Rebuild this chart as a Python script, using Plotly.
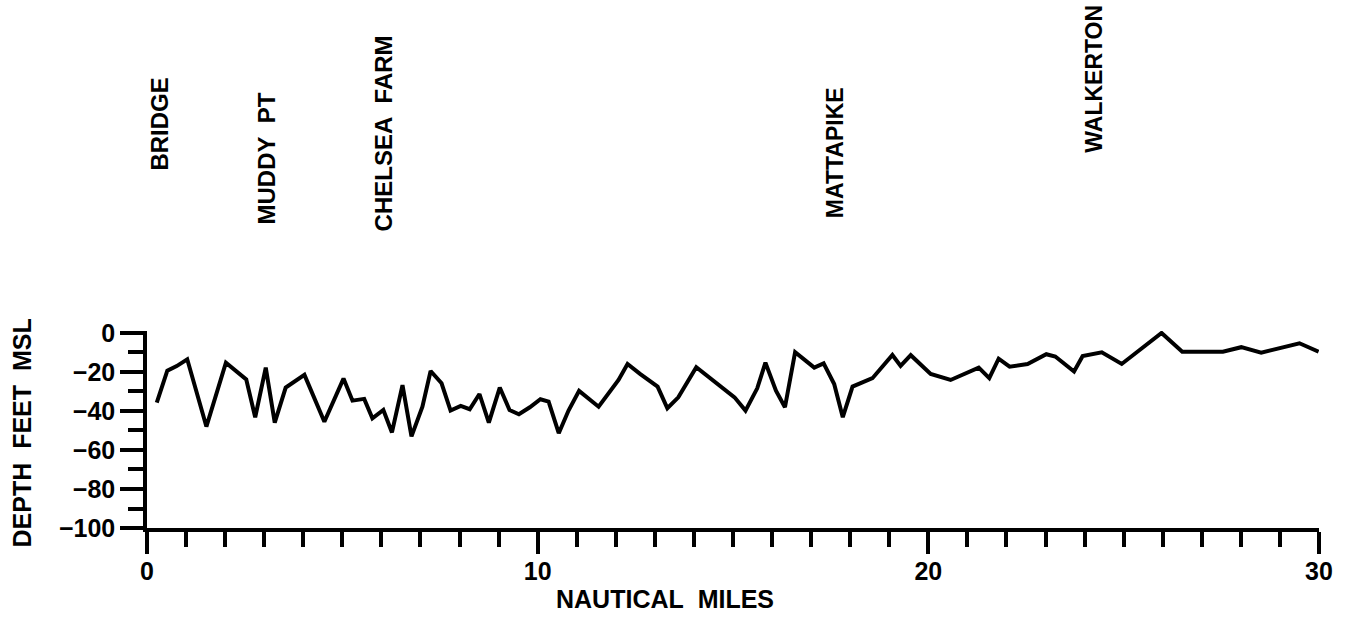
import plotly.graph_objects as go

# ---- data ----
miles = [0.25, 0.52, 0.76, 1.03, 1.52, 2.02, 2.54, 2.77, 3.04, 3.27, 3.55, 4.03, 4.54,
         5.03, 5.26, 5.56, 5.77, 6.05, 6.27, 6.54, 6.77, 7.05, 7.26, 7.54, 7.77, 8.03,
         8.26, 8.51, 8.75, 9.03, 9.28, 9.52, 9.80, 10.07, 10.28, 10.54, 10.79, 11.06,
         11.56, 12.07, 12.30, 12.62, 13.07, 13.32, 13.60, 14.06, 15.04, 15.32, 15.62,
         15.83, 16.10, 16.33, 16.59, 17.08, 17.32, 17.59, 17.81, 18.06, 18.57, 19.08,
         19.29, 19.55, 20.06, 20.57, 21.29, 21.56, 21.80, 22.08, 22.54, 23.02, 23.25,
         23.73, 23.95, 24.44, 24.95, 25.97, 26.50, 27.54, 28.01, 28.52, 29.50, 29.99]
depth = [-35.7, -19.3, -17.0, -13.5, -48.0, -15.2, -23.8, -43.2, -17.8, -46.0, -28.0,
         -21.5, -45.5, -23.4, -34.7, -33.8, -43.8, -39.5, -51.0, -26.8, -53.0, -37.8,
         -19.5, -25.8, -39.8, -37.4, -39.1, -31.3, -46.0, -28.0, -39.5, -41.7, -38.1,
         -34.0, -35.2, -51.4, -39.8, -29.7, -37.8, -24.1, -15.9, -21.0, -27.5, -38.6,
         -33.0, -17.6, -33.0, -39.8, -28.4, -15.2, -29.6, -38.1, -9.9, -17.8, -15.6,
         -26.2, -43.2, -27.5, -23.2, -11.3, -16.9, -11.4, -21.0, -24.1, -17.8, -23.2,
         -13.2, -17.3, -15.9, -10.9, -12.1, -19.8, -11.8, -9.9, -15.9, 0.0, -9.6, -9.6,
         -7.3, -10.1, -5.3, -9.6]

NB2 = "\u00a0\u00a0"
place_names = ["BRIDGE", "MUDDY" + NB2 + "PT", "CHELSEA" + NB2 + "FARM", "MATTAPIKE", "WALKERTON"]
place_miles = [0.31, 3.06, 6.05, 17.6, 24.23]

x_ticks = [0, 10, 20, 30]
y_ticks = [-100, -80, -60, -40, -20, 0]

x_title = "NAUTICAL" + NB2 + "MILES"
y_title = "DEPTH" + NB2 + "FEET" + NB2 + "MSL"

# ---- layout helpers (not data) ----
label_bottoms = [1.802, 1.528, 1.497, 1.563, 1.893]  # paper y of label bottoms
label_sizes = [24, 24, 24, 23, 23]
FONT = "Liberation Sans, Arial, sans-serif"

fig = go.Figure()
fig.add_trace(go.Scatter(x=miles, y=depth, mode="lines",
                         line=dict(color="black", width=4), showlegend=False))

for name, m, yb, fs in zip(place_names, place_miles, label_bottoms, label_sizes):
    fig.add_annotation(x=m, xref="x", y=yb, yref="paper", text=name, textangle=-90,
                       showarrow=False, xanchor="center", yanchor="bottom",
                       font=dict(family=FONT, size=fs, color="black", weight="bold"))

fig.add_annotation(x=0.442, y=-0.36, xref="paper", yref="paper", text=x_title,
                   showarrow=False, xanchor="center", yanchor="middle",
                   font=dict(family=FONT, size=25, color="black", weight="bold"))
fig.add_annotation(x=-0.1063, y=0.482, xref="paper", yref="paper", text=y_title,
                   textangle=-90, showarrow=False, xanchor="center", yanchor="middle",
                   font=dict(family=FONT, size=25, color="black", weight="bold"))

tickfont = dict(family=FONT, size=25, color="black", weight="bold")
fig.update_xaxes(range=[0, 30], tickvals=x_ticks, ticks="outside", ticklen=22, tickwidth=3.5,
                 tickcolor="black", showline=True, linewidth=3.5, linecolor="black",
                 showgrid=False, zeroline=False, tickfont=tickfont, ticklabelstandoff=-4,
                 minor=dict(dtick=1, ticks="outside", ticklen=15, tickwidth=3.5,
                            tickcolor="black", showgrid=False))
fig.update_yaxes(range=[-100, 1], tickvals=y_ticks, ticks="outside", ticklen=23, tickwidth=3.5,
                 tickcolor="black", showline=True, linewidth=3.5, linecolor="black",
                 showgrid=False, zeroline=False, tickfont=tickfont,
                 minor=dict(dtick=10, ticks="outside", ticklen=15, tickwidth=3.5,
                            tickcolor="black", showgrid=False))

fig.update_layout(width=1345, height=619, margin=dict(l=147, r=22, t=331, b=91),
                  plot_bgcolor="white", paper_bgcolor="white", showlegend=False)

fig.write_html("out.html")
